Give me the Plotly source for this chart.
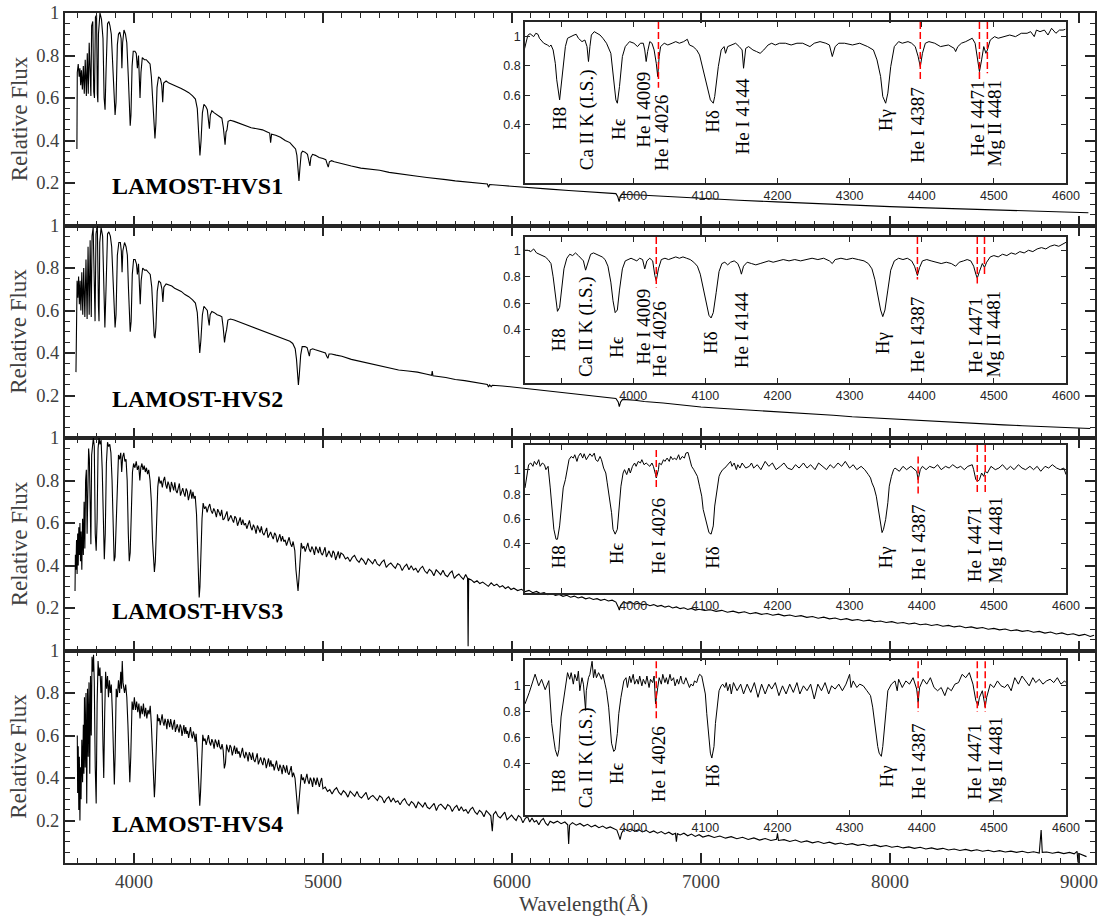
import plotly.graph_objects as go

# ---------------- data ----------------
WAVE_TICKS = [4000, 5000, 6000, 7000, 8000, 9000]
FLUX_TICKS = [0.2, 0.4, 0.6, 0.8, 1.0]
FLUX_LABELS = ["0.2", "0.4", "0.6", "0.8", "1"]
INSET_XTICKS = [3900, 4000, 4100, 4200, 4300, 4400, 4500, 4600]
INSET_XLABELS = ["", "4000", "4100", "4200", "4300", "4400", "4500", "4600"]
INSET_YTICKS = [0.2, 0.4, 0.6, 0.8, 1.0]
INSET_YLABELS = ["", "0.4", "0.6", "0.8", "1"]
STAR_NAMES = ["LAMOST-HVS1", "LAMOST-HVS2", "LAMOST-HVS3", "LAMOST-HVS4"]
INSET_YMAX = [1.1, 1.1, 1.2, 1.2]

HVS1_MAIN = [(3698,0.36),(3700,0.72),(3705,0.76),(3710,0.70),(3714,0.74),(3718,0.66),(3722,0.73),(3727,0.64),(3732,0.75),(3737,0.62),(3742,0.78),(3748,0.61),(3753,0.81),(3758,0.62),(3763,0.86),(3768,0.64),(3772,0.61),(3776,0.94),(3782,0.96),(3787,0.63),(3791,0.60),(3796,0.98),(3802,0.99),(3806,0.62),(3809,0.58),(3812,0.90),(3820,1.00),(3828,0.97),(3836,0.88),(3842,0.60),(3847,0.545),(3852,0.72),(3860,0.95),(3867,0.96),(3873,0.94),(3880,0.90),(3888,0.75),(3895,0.56),(3900,0.52),(3905,0.58),(3912,0.85),(3918,0.90),(3925,0.91),(3932,0.88),(3936,0.74),(3940,0.86),(3947,0.92),(3955,0.90),(3962,0.86),(3970,0.70),(3976,0.50),(3980,0.47),(3984,0.52),(3990,0.75),(3996,0.82),(4005,0.82),(4012,0.81),(4018,0.74),(4024,0.80),(4028,0.70),(4032,0.60),(4037,0.72),(4044,0.79),(4055,0.78),(4065,0.78),(4075,0.77),(4085,0.76),(4092,0.70),(4100,0.55),(4108,0.43),(4111,0.41),(4116,0.48),(4122,0.65),(4130,0.70),(4140,0.69),(4147,0.66),(4152,0.58),(4157,0.67),(4170,0.68),(4185,0.67),(4200,0.665),(4215,0.66),(4230,0.655),(4250,0.645),(4270,0.635),(4290,0.625),(4310,0.61),(4325,0.595),(4335,0.55),(4343,0.42),(4349,0.33),(4355,0.40),(4362,0.53),(4370,0.57),(4380,0.56),(4388,0.545),(4394,0.50),(4399,0.455),(4404,0.52),(4412,0.54),(4425,0.53),(4440,0.52),(4455,0.51),(4465,0.505),(4473,0.46),(4482,0.38),(4487,0.44),(4492,0.45),(4498,0.49),(4510,0.495),(4530,0.49),(4560,0.48),(4590,0.47),(4620,0.46),(4650,0.455),(4680,0.45),(4705,0.44),(4718,0.435),(4723,0.39),(4728,0.43),(4750,0.425),(4775,0.415),(4800,0.40),(4825,0.39),(4840,0.375),(4855,0.36),(4862,0.33),(4868,0.26),(4873,0.21),(4878,0.27),(4885,0.34),(4892,0.35),(4905,0.345),(4918,0.335),(4926,0.305),(4931,0.28),(4936,0.32),(4945,0.335),(4960,0.33),(4980,0.32),(5000,0.315),(5015,0.31),(5022,0.29),(5028,0.275),(5034,0.30),(5045,0.305),(5060,0.30),(5100,0.29),(5150,0.28),(5200,0.27),(5250,0.265),(5300,0.26),(5350,0.25),(5400,0.245),(5450,0.238),(5500,0.232),(5550,0.226),(5600,0.222),(5650,0.216),(5700,0.21),(5750,0.205),(5800,0.20),(5870,0.195),(5876,0.18),(5882,0.193),(5950,0.188),(6000,0.184),(6100,0.178),(6200,0.171),(6300,0.165),(6400,0.159),(6500,0.153),(6550,0.15),(6560,0.135),(6567,0.112),(6573,0.135),(6580,0.147),(6700,0.142),(6800,0.137),(6900,0.132),(7000,0.127),(7200,0.119),(7400,0.111),(7600,0.103),(7800,0.096),(8000,0.089),(8200,0.083),(8400,0.077),(8600,0.072),(8800,0.067),(9000,0.062),(9050,0.06)]

HVS2_MAIN = [(3693,0.31),(3695,0.68),(3699,0.74),(3703,0.66),(3707,0.76),(3711,0.63),(3715,0.74),(3719,0.60),(3724,0.78),(3729,0.58),(3734,0.80),(3740,0.57),(3746,0.84),(3752,0.56),(3757,0.90),(3763,0.58),(3768,0.93),(3774,0.57),(3778,0.95),(3784,0.99),(3790,0.60),(3794,0.55),(3799,0.96),(3806,1.0),(3812,0.62),(3815,0.55),(3819,0.92),(3826,0.99),(3834,0.95),(3841,0.62),(3846,0.52),(3852,0.70),(3860,0.96),(3867,0.97),(3875,0.95),(3882,0.90),(3890,0.74),(3896,0.55),(3900,0.52),(3905,0.58),(3912,0.86),(3920,0.92),(3928,0.92),(3933,0.88),(3937,0.78),(3941,0.88),(3950,0.92),(3958,0.90),(3965,0.86),(3971,0.70),(3977,0.52),(3980,0.50),(3985,0.55),(3991,0.77),(3998,0.84),(4006,0.84),(4013,0.82),(4018,0.77),(4024,0.82),(4029,0.72),(4033,0.63),(4038,0.74),(4046,0.80),(4056,0.79),(4066,0.79),(4076,0.78),(4086,0.77),(4094,0.71),(4101,0.56),(4107,0.48),(4111,0.47),(4116,0.52),(4123,0.69),(4131,0.74),(4141,0.73),(4148,0.70),(4153,0.64),(4158,0.71),(4170,0.725),(4185,0.72),(4200,0.715),(4215,0.705),(4230,0.70),(4250,0.69),(4270,0.675),(4290,0.665),(4310,0.65),(4325,0.635),(4335,0.59),(4342,0.47),(4348,0.40),(4354,0.46),(4362,0.58),(4370,0.62),(4380,0.61),(4388,0.60),(4393,0.56),(4398,0.53),(4403,0.58),(4412,0.595),(4425,0.59),(4440,0.58),(4455,0.575),(4465,0.57),(4472,0.52),(4479,0.45),(4485,0.49),(4490,0.51),(4497,0.555),(4510,0.56),(4530,0.555),(4560,0.545),(4590,0.535),(4620,0.525),(4650,0.515),(4680,0.505),(4710,0.495),(4740,0.485),(4770,0.475),(4800,0.465),(4825,0.455),(4840,0.445),(4853,0.42),(4860,0.37),(4866,0.29),(4870,0.25),(4875,0.30),(4882,0.39),(4890,0.43),(4905,0.43),(4916,0.425),(4923,0.40),(4928,0.385),(4933,0.415),(4945,0.42),(4960,0.415),(4980,0.41),(5000,0.405),(5013,0.40),(5020,0.385),(5026,0.375),(5032,0.395),(5045,0.395),(5070,0.39),(5100,0.385),(5150,0.37),(5200,0.36),(5250,0.35),(5300,0.34),(5350,0.33),(5400,0.32),(5450,0.315),(5500,0.31),(5550,0.30),(5575,0.295),(5578,0.315),(5582,0.293),(5650,0.285),(5700,0.275),(5750,0.27),(5800,0.262),(5870,0.252),(5876,0.24),(5882,0.25),(5890,0.242),(5896,0.248),(5950,0.245),(6000,0.24),(6100,0.23),(6200,0.22),(6300,0.21),(6400,0.2),(6500,0.19),(6550,0.186),(6562,0.17),(6568,0.148),(6575,0.17),(6585,0.182),(6650,0.178),(6700,0.172),(6800,0.165),(6900,0.155),(7000,0.146),(7100,0.14),(7200,0.135),(7300,0.13),(7400,0.124),(7500,0.118),(7600,0.112),(7700,0.107),(7800,0.1),(7900,0.095),(8000,0.089),(8100,0.085),(8200,0.08),(8300,0.076),(8400,0.071),(8500,0.066),(8600,0.062),(8700,0.058),(8800,0.055),(8900,0.051),(9000,0.047),(9060,0.045)]

HVS3_MAIN = [(3688,0.28),(3690,0.45),(3693,0.38),(3696,0.52),(3699,0.36),(3702,0.55),(3705,0.40),(3708,0.58),(3711,0.45),(3714,0.60),(3717,0.42),(3720,0.56),(3724,0.38),(3728,0.62),(3732,0.45),(3736,0.70),(3740,0.48),(3744,0.80),(3748,0.85),(3752,0.55),(3756,0.88),(3760,0.95),(3764,0.90),(3768,0.52),(3772,0.50),(3776,0.92),(3780,0.98),(3785,1.0),(3790,0.96),(3795,0.55),(3800,0.47),(3805,0.62),(3810,0.95),(3815,1.0),(3820,0.97),(3826,0.99),(3832,0.85),(3838,0.55),(3843,0.43),(3848,0.55),(3854,0.88),(3860,0.98),(3866,0.96),(3872,0.97),(3878,0.93),(3884,0.80),(3890,0.55),(3895,0.42),(3900,0.44),(3905,0.60),(3912,0.85),(3918,0.92),(3924,0.90),(3930,0.93),(3935,0.84),(3940,0.91),(3946,0.93),(3952,0.89),(3958,0.90),(3964,0.80),(3970,0.55),(3975,0.42),(3980,0.46),(3986,0.70),(3992,0.84),(3998,0.88),(4005,0.86),(4012,0.89),(4018,0.85),(4025,0.87),(4031,0.80),(4036,0.86),(4042,0.88),(4048,0.85),(4054,0.87),(4060,0.84),(4066,0.86),(4072,0.83),(4078,0.85),(4085,0.80),(4092,0.70),(4098,0.52),(4104,0.40),(4108,0.37),(4113,0.42),
    (4120,0.62),(4126,0.77),(4132,0.818),(4138,0.786),(4144,0.799),(4150,0.767),(4156,0.80),(4162,0.817),(4168,0.78),(4174,0.762),(4180,0.795),(4186,0.778),(4192,0.745),(4198,0.793),(4204,0.775),(4210,0.753),(4216,0.791),(4222,0.753),(4228,0.741),(4234,0.768),(4240,0.786),(4246,0.729),(4252,0.751),(4258,0.764),(4264,0.741),(4270,0.724),(4276,0.762),(4282,0.749),(4288,0.707),(4294,0.739),(4300,0.757),(4306,0.715),(4312,0.747),(4318,0.715),(4324,0.727),(4331,0.64),(4336,0.50),(4341,0.33),(4345,0.25),(4349,0.30),(4354,0.46),(4360,0.62),
    (4366,0.694),(4373,0.667),(4380,0.677),(4387,0.65),(4394,0.675),(4401,0.689),(4408,0.658),(4415,0.644),(4422,0.669),(4429,0.654),(4436,0.628),(4443,0.665),(4450,0.651),(4457,0.632),(4464,0.662),(4471,0.615),(4478,0.62),(4485,0.642),(4492,0.655),(4499,0.609),(4506,0.626),(4513,0.636),(4520,0.617),(4527,0.602),(4534,0.632),(4541,0.621),(4548,0.587),(4555,0.612),(4562,0.626),(4569,0.591),(4576,0.616),(4583,0.59),(4590,0.599),(4597,0.573),(4604,0.598),(4611,0.612),(4618,0.581),(4625,0.566),(4632,0.592),(4639,0.577),(4646,0.55),(4653,0.588),(4660,0.573),(4667,0.555),(4674,0.584),(4681,0.553),(4688,0.543),(4695,0.564),(4702,0.577),(4709,0.531),(4716,0.548),(4723,0.558),(4730,0.539),(4737,0.524),(4744,0.554),(4751,0.543),(4758,0.509),(4765,0.534),(4772,0.547),(4779,0.513),(4786,0.538),(4793,0.512),(4800,0.521),(4807,0.494),(4814,0.52),(4821,0.533),(4828,0.503),(4835,0.488),(4842,0.513),(4851,0.47),(4857,0.38),(4863,0.30),(4868,0.28),(4873,0.34),(4879,0.45),
    (4885,0.506),(4892,0.48),(4899,0.491),(4906,0.465),(4913,0.492),(4920,0.506),(4927,0.476),(4934,0.463),(4941,0.489),(4948,0.476),(4955,0.45),(4962,0.489),(4969,0.475),(4976,0.458),(4983,0.488),(4990,0.459),(4997,0.449),(5004,0.471),(5011,0.486),(5018,0.44),(5025,0.459),(5032,0.469),(5039,0.452),(5046,0.438),(5053,0.469),(5060,0.459),(5067,0.426),(5074,0.452),(5081,0.466),(5088,0.433),(5095,0.459),
    (5107,0.451),(5119,0.431),(5131,0.439),(5143,0.419),(5155,0.438),(5167,0.448),(5179,0.426),(5191,0.415),(5203,0.434),(5215,0.423),(5227,0.404),(5239,0.432),(5251,0.421),(5263,0.408),(5275,0.43),(5287,0.407),(5299,0.399),(5311,0.416),(5323,0.426),(5335,0.391),(5347,0.404),(5359,0.412),(5371,0.398),(5383,0.387),(5395,0.409),(5407,0.402),(5419,0.376),(5431,0.395),(5443,0.406),(5455,0.38),(5467,0.399),(5479,0.379),(5491,0.387),(5503,0.367),(5515,0.386),(5527,0.396),(5539,0.374),(5551,0.363),(5563,0.382),(5575,0.372),(5587,0.352),(5599,0.38),(5611,0.369),(5623,0.356),(5635,0.378),(5647,0.355),(5659,0.347),(5671,0.364),(5683,0.374),(5695,0.339),(5707,0.352),(5719,0.36),(5731,0.346),(5743,0.335),(5755,0.358),(5765,0.34),(5768,0.02),(5771,0.338),
    (5785,0.332),(5800,0.32),(5815,0.328),(5830,0.315),(5845,0.322),(5860,0.31),(5875,0.302),(5890,0.318),(5905,0.305),(5920,0.312),(5935,0.298),(5950,0.305),(5965,0.292),(5980,0.30),(5995,0.287),(6010,0.293),(6030,0.282),(6050,0.288),(6070,0.277),(6090,0.283),(6110,0.272),(6130,0.278),(6150,0.268),(6170,0.273),(6190,0.263),(6210,0.268),(6230,0.259),(6250,0.264),(6270,0.255),(6290,0.26),(6310,0.251),(6330,0.256),(6350,0.247),(6370,0.252),(6390,0.243),(6410,0.248),(6430,0.24),(6450,0.244),(6470,0.236),(6490,0.241),(6510,0.233),(6530,0.237),(6550,0.228),(6562,0.205),(6568,0.19),(6575,0.212),(6590,0.228),(6610,0.222),(6630,0.226),(6650,0.218),(6670,0.223),(6690,0.215),(6710,0.219),(6730,0.211),(6750,0.216),(6770,0.208),(6790,0.212),(6810,0.204),(6830,0.209),(6850,0.2),(6870,0.205),(6890,0.197),(6910,0.201),(6930,0.193),(6950,0.198),(6970,0.19),(6990,0.194),(7020,0.188),(7050,0.192),(7080,0.184),(7110,0.189),(7140,0.18),(7170,0.185),(7200,0.177),(7230,0.182),(7260,0.173),(7290,0.178),(7320,0.17),(7350,0.174),(7380,0.166),(7410,0.171),(7440,0.163),(7470,0.167),(7500,0.16),(7530,0.164),(7560,0.156),(7590,0.16),(7620,0.152),(7650,0.157),(7680,0.149),(7710,0.153),(7740,0.145),(7770,0.15),(7800,0.142),(7830,0.146),(7860,0.139),(7890,0.143),(7920,0.135),(7950,0.139),(7980,0.132),(8010,0.136),(8040,0.128),(8070,0.132),(8100,0.125),(8130,0.129),(8160,0.121),(8190,0.125),(8220,0.118),(8250,0.122),(8280,0.114),(8310,0.118),(8340,0.111),(8370,0.115),(8400,0.107),(8430,0.111),(8460,0.104),(8490,0.108),(8520,0.1),(8550,0.104),(8580,0.097),(8610,0.101),(8640,0.093),(8670,0.097),(8700,0.09),(8730,0.094),(8760,0.086),(8790,0.09),(8820,0.082),(8850,0.087),(8880,0.078),(8910,0.083),(8940,0.074),(8970,0.079),(9000,0.07),(9030,0.076),(9060,0.066),(9080,0.072)]

HVS4_MAIN = [(3700,0.60),(3702,0.33),(3705,0.55),(3708,0.25),(3711,0.50),(3714,0.20),(3717,0.45),(3720,0.30),(3724,0.58),(3728,0.38),(3732,0.65),(3735,0.42),(3738,0.78),(3742,0.45),(3746,0.80),(3750,0.28),(3754,0.82),(3758,0.50),(3762,0.85),(3766,0.42),(3770,0.88),(3774,0.60),(3778,0.97),(3782,0.90),(3786,0.98),(3790,0.85),(3795,0.45),(3800,0.28),(3805,0.75),(3810,0.95),(3815,0.88),(3820,0.92),(3825,0.80),(3830,0.88),(3836,0.55),(3840,0.40),(3845,0.70),(3850,0.90),(3855,0.82),(3860,0.88),(3865,0.78),(3870,0.86),(3875,0.80),(3880,0.84),(3886,0.70),(3892,0.45),(3896,0.37),(3900,0.50),(3906,0.82),(3912,0.78),(3918,0.86),(3924,0.80),(3930,0.90),(3934,0.82),(3938,0.95),(3942,0.85),(3946,0.83),(3950,0.80),(3956,0.84),(3962,0.78),(3968,0.65),(3974,0.45),(3978,0.38),(3983,0.50),(3990,0.76),(3996,0.72),(4002,0.78),(4008,0.72),(4014,0.76),(4020,0.71),(4026,0.75),(4032,0.68),(4038,0.74),(4044,0.70),(4050,0.75),(4056,0.69),(4062,0.73),(4068,0.68),(4074,0.72),(4080,0.70),(4086,0.74),(4092,0.65),(4098,0.50),(4104,0.35),(4108,0.31),(4112,0.38),(4118,0.60),
    (4124,0.70),(4129,0.668),(4134,0.681),(4139,0.649),(4144,0.682),(4149,0.70),(4154,0.663),(4159,0.646),(4164,0.679),(4169,0.662),(4174,0.63),(4179,0.678),(4184,0.661),(4189,0.639),(4194,0.677),(4199,0.64),(4204,0.628),(4209,0.656),(4214,0.674),(4219,0.617),(4224,0.64),(4229,0.653),(4234,0.631),(4239,0.614),(4244,0.652),(4249,0.64),(4254,0.598),(4259,0.631),(4264,0.649),(4269,0.607),(4274,0.64),(4279,0.608),(4284,0.621),(4289,0.589),(4294,0.622),(4299,0.64),(4304,0.603),(4309,0.586),(4314,0.619),(4319,0.602),(4324,0.57),(4329,0.608),(4334,0.54),(4340,0.40),(4344,0.29),(4348,0.27),(4352,0.33),(4358,0.50),
    (4364,0.603),(4370,0.574),(4376,0.586),(4382,0.556),(4388,0.586),(4394,0.602),(4400,0.568),(4406,0.553),(4412,0.583),(4418,0.567),(4424,0.538),(4430,0.581),(4436,0.566),(4442,0.545),(4448,0.58),(4454,0.546),(4460,0.535),(4466,0.56),(4472,0.53),(4478,0.445),(4484,0.47),(4490,0.557),(4496,0.536),(4502,0.521),(4508,0.555),(4514,0.544),(4520,0.506),(4526,0.536),(4532,0.552),(4538,0.513),(4544,0.543),(4550,0.514),(4556,0.526),(4562,0.496),(4568,0.526),(4574,0.542),(4580,0.508),(4586,0.493),(4592,0.523),(4598,0.507),(4604,0.478),(4610,0.521),(4616,0.506),(4622,0.485),(4628,0.52),(4634,0.486),(4640,0.475),(4646,0.50),(4652,0.516),(4658,0.464),(4664,0.485),(4670,0.497),(4676,0.476),(4682,0.461),(4688,0.495),(4694,0.484),(4700,0.446),(4706,0.476),(4712,0.492),(4718,0.453),(4724,0.483),(4730,0.454),(4736,0.466),(4742,0.436),(4748,0.466),(4754,0.482),(4760,0.448),(4766,0.433),(4772,0.463),(4778,0.447),(4784,0.418),(4790,0.461),(4796,0.446),(4802,0.425),(4808,0.46),(4814,0.426),(4820,0.415),(4826,0.44),(4832,0.456),(4838,0.404),(4844,0.425),(4852,0.40),(4858,0.34),(4863,0.27),(4868,0.23),(4873,0.29),(4879,0.38),
    (4885,0.418),(4891,0.39),(4897,0.402),(4903,0.373),(4909,0.403),(4915,0.42),(4921,0.386),(4927,0.372),(4933,0.402),(4939,0.387),(4945,0.358),(4951,0.402),(4957,0.387),(4963,0.367),(4969,0.402),(4975,0.369),(4981,0.358),(4987,0.384),(4993,0.40),(5000,0.349),
    (5012,0.357),(5024,0.337),(5036,0.345),(5048,0.325),(5060,0.344),(5072,0.354),(5084,0.332),(5096,0.321),(5108,0.34),(5120,0.33),(5132,0.31),(5144,0.338),(5156,0.327),(5168,0.314),(5180,0.336),(5192,0.313),(5204,0.306),(5216,0.322),(5228,0.332),(5240,0.298),(5252,0.311),(5264,0.318),(5276,0.304),(5288,0.294),(5300,0.316),(5312,0.308),(5324,0.283),(5336,0.302),(5348,0.312),(5360,0.287),(5372,0.306),(5384,0.286),(5396,0.293),(5408,0.274),(5420,0.293),(5432,0.303),(5444,0.281),(5456,0.27),(5468,0.289),(5480,0.279),(5492,0.259),(5504,0.287),(5516,0.276),(5528,0.263),(5540,0.285),(5552,0.262),(5564,0.255),(5576,0.271),(5588,0.281),(5600,0.247),(5612,0.27),(5624,0.277),(5636,0.263),(5648,0.253),(5660,0.275),(5672,0.267),(5684,0.242),(5696,0.261),(5708,0.271),(5720,0.246),(5732,0.265),(5744,0.245),(5756,0.252),(5768,0.233),(5780,0.252),(5792,0.262),(5804,0.24),(5816,0.229),(5828,0.248),(5840,0.238),(5852,0.218),(5864,0.246),(5876,0.235),(5888,0.222),(5896,0.15),(5902,0.229),(5914,0.242),(5926,0.22),(5938,0.212),(5950,0.228),(5962,0.239),(5974,0.204),(5986,0.217),(5998,0.225),(6010,0.211),(6022,0.20),(6034,0.223),(6046,0.215),(6058,0.189),(6070,0.209),(6082,0.219),(6094,0.193),(6106,0.212),(6118,0.193),(6130,0.20),(6142,0.18),(6154,0.20),(6166,0.21),(6178,0.187),(6190,0.177),(6202,0.196),
    (6220,0.188),(6240,0.197),(6260,0.185),(6280,0.193),(6295,0.18),(6300,0.09),(6305,0.178),(6320,0.19),(6340,0.178),(6360,0.186),(6380,0.174),(6400,0.182),(6420,0.17),(6440,0.178),(6460,0.166),(6480,0.174),(6500,0.163),(6520,0.17),(6540,0.16),(6555,0.155),(6565,0.13),(6572,0.11),(6580,0.14),(6595,0.162),(6610,0.152),(6630,0.16),(6650,0.149),(6670,0.157),(6690,0.146),(6710,0.154),(6730,0.143),(6750,0.151),(6770,0.14),(6790,0.148),(6810,0.137),(6830,0.145),(6850,0.134),(6865,0.14),(6870,0.10),(6875,0.138),(6890,0.132),(6910,0.14),(6930,0.128),(6950,0.136),(6970,0.125),(6990,0.133),(7010,0.122),(7040,0.13),(7070,0.12),(7100,0.127),(7130,0.117),(7160,0.124),(7190,0.114),(7220,0.121),(7250,0.111),(7280,0.118),(7310,0.108),(7340,0.115),(7370,0.106),(7400,0.112),(7405,0.14),(7410,0.106),(7440,0.11),(7470,0.101),(7500,0.108),(7530,0.098),(7560,0.104),(7590,0.095),(7620,0.101),(7650,0.092),(7680,0.098),(7710,0.089),(7740,0.094),(7770,0.086),(7800,0.091),(7830,0.083),(7860,0.088),(7890,0.08),(7920,0.085),(7950,0.077),(7980,0.082),(8010,0.074),(8040,0.079),(8070,0.071),(8100,0.076),(8130,0.069),(8160,0.074),(8190,0.066),(8220,0.071),(8250,0.064),(8280,0.069),(8310,0.061),(8340,0.066),(8370,0.059),(8400,0.064),(8430,0.057),(8460,0.062),(8490,0.055),(8520,0.06),(8550,0.053),(8580,0.058),(8610,0.052),(8640,0.056),(8670,0.05),(8700,0.055),(8730,0.048),(8760,0.053),(8790,0.047),(8800,0.155),(8806,0.05),(8830,0.052),(8860,0.046),(8890,0.051),(8920,0.044),(8950,0.05),(8975,0.043),(8990,0.055),(8995,0.003),(9000,0.045),(9020,0.038),(9040,0.03)]

HVS1_INSET = [(3849,0.91),(3854,1.01),(3857,1.02),(3862,1.0),(3865,1.023),(3868,1.016),(3870,0.989),(3876,0.955),(3881,0.943),(3884,0.932),(3886,0.943),(3889,0.909),(3892,0.818),(3894,0.705),(3898,0.568),(3901,0.705),(3904,0.852),(3906,0.932),(3909,0.989),(3913,1.0),(3918,1.011),(3921,1.016),(3924,0.989),(3929,0.966),(3933,0.977),(3936,0.932),(3938,0.83),(3940,0.932),(3942,1.011),(3946,1.034),(3950,1.023),(3954,1.011),(3958,0.989),(3963,0.955),(3969,0.886),(3973,0.727),(3976,0.568),(3978,0.545),(3981,0.659),(3985,0.864),(3989,0.932),(3993,0.955),(3995,0.966),(4001,0.955),(4006,0.932),(4010,0.955),(4014,0.955),(4016,0.909),(4018,0.83),(4020,0.898),(4023,0.966),(4026,0.955),(4029,0.909),(4032,0.818),(4034,0.727),(4036,0.864),(4038,0.932),(4043,0.955),(4048,0.943),(4054,0.955),(4059,0.966),(4064,0.955),(4070,0.966),(4075,0.982),(4078,0.943),(4083,0.932),(4088,0.909),(4092,0.875),(4096,0.795),(4102,0.659),(4107,0.568),(4111,0.545),(4113,0.591),(4118,0.795),(4122,0.909),(4126,0.932),(4128,0.886),(4131,0.932),(4136,0.943),(4142,0.955),(4147,0.932),(4151,0.909),(4153,0.784),(4156,0.920),(4160,0.932),(4166,0.909),(4171,0.898),(4176,0.886),(4181,0.909),(4187,0.943),(4192,0.955),(4197,0.943),(4203,0.955),(4211,0.955),(4219,0.943),(4227,0.955),(4235,0.955),(4240,0.943),(4245,0.932),(4251,0.955),(4259,0.966),(4267,0.955),(4272,0.943),(4276,0.864),(4280,0.932),(4285,0.955),(4293,0.955),(4304,0.943),(4314,0.955),(4325,0.932),(4333,0.909),(4338,0.841),(4343,0.727),(4346,0.591),(4350,0.545),(4353,0.614),(4357,0.795),(4362,0.932),(4368,0.966),(4373,0.955),(4381,0.966),(4386,0.955),(4391,0.932),(4395,0.864),(4398,0.795),(4401,0.886),(4405,0.955),(4410,0.966),(4418,0.955),(4426,0.932),(4437,0.943),(4445,0.920),(4447,0.898),(4450,0.932),(4455,0.955),(4461,0.966),(4466,0.977),(4470,0.989),(4474,0.955),(4478,0.841),(4480,0.761),(4483,0.841),(4486,0.932),(4489,0.886),(4491,0.909),(4495,0.977),(4501,1.0),(4506,0.989),(4514,1.0),(4522,1.011),(4530,1.0),(4538,1.023),(4546,1.023),(4551,1.034),(4556,1.0),(4559,1.045),(4564,1.034),(4570,1.045),(4575,1.011),(4580,1.057),(4586,1.023),(4591,1.045),(4596,1.045),(4599,1.05)]

HVS2_INSET = [(3850,1.0),(3854,1.0),(3858,0.99),(3862,1.01),(3866,0.98),(3870,0.97),(3874,0.96),(3878,0.95),(3882,0.93),(3886,0.90),(3889,0.80),(3892,0.66),(3895,0.54),(3898,0.57),(3901,0.72),(3904,0.86),(3908,0.94),(3912,0.97),(3916,0.96),(3920,0.98),(3924,0.96),(3928,0.94),(3931,0.92),(3934,0.85),(3937,0.90),(3941,0.97),(3945,0.98),(3949,0.97),(3953,0.96),(3957,0.95),(3961,0.93),(3965,0.88),(3969,0.76),(3972,0.62),(3975,0.53),(3978,0.55),(3981,0.70),(3985,0.86),(3989,0.92),(3993,0.93),(3997,0.94),(4001,0.93),(4005,0.92),(4009,0.94),(4013,0.93),(4016,0.86),(4019,0.92),(4023,0.94),(4027,0.92),(4030,0.81),(4032,0.77),(4035,0.86),(4039,0.93),(4044,0.94),(4049,0.93),(4054,0.94),(4059,0.95),(4064,0.94),(4069,0.95),(4074,0.94),(4079,0.93),(4084,0.91),(4089,0.88),(4093,0.82),(4097,0.72),(4101,0.60),(4105,0.51),(4108,0.49),(4111,0.53),(4115,0.68),(4119,0.84),(4123,0.90),(4127,0.91),(4131,0.89),(4135,0.91),(4140,0.92),(4145,0.90),(4148,0.86),(4150,0.82),(4153,0.88),(4158,0.91),(4164,0.90),(4170,0.89),(4176,0.90),(4182,0.91),(4188,0.92),(4194,0.91),(4200,0.92),(4208,0.93),(4216,0.92),(4224,0.93),(4232,0.92),(4240,0.93),(4248,0.94),(4256,0.93),(4264,0.94),(4272,0.92),(4276,0.90),(4280,0.93),(4288,0.94),(4296,0.93),(4304,0.94),(4312,0.93),(4320,0.92),(4326,0.90),(4331,0.86),(4335,0.78),(4339,0.66),(4343,0.55),(4346,0.50),(4349,0.55),(4353,0.70),(4357,0.85),(4362,0.92),(4368,0.94),(4374,0.93),(4380,0.94),(4386,0.92),(4390,0.88),(4394,0.81),(4397,0.87),(4401,0.92),(4407,0.93),(4413,0.92),(4420,0.91),(4427,0.90),(4434,0.91),(4441,0.90),(4447,0.88),(4452,0.91),(4458,0.92),(4463,0.93),(4468,0.92),(4472,0.88),(4475,0.82),(4477,0.79),(4480,0.84),(4484,0.90),(4487,0.87),(4490,0.91),(4495,0.95),(4500,0.96),(4506,0.95),(4512,0.97),(4518,0.96),(4524,0.98),(4530,0.97),(4536,0.99),(4542,0.98),(4548,1.0),(4554,0.99),(4560,1.01),(4566,1.02),(4572,1.01),(4578,1.03),(4584,1.04),(4590,1.03),(4596,1.05),(4600,1.06)]

HVS3_INSET = [(3850,0.852),(3853,0.973),(3855,1.04),(3858,1.054),(3861,1.027),(3863,1.067),(3866,1.04),(3869,1.081),(3871,1.027),(3874,1.054),(3877,1.04),(3879,1.0),(3882,1.027),(3885,0.852),(3887,0.705),(3890,0.517),(3893,0.436),(3895,0.436),(3898,0.544),(3901,0.705),(3903,0.852),(3906,0.919),(3909,1.0),(3911,1.081),(3914,1.107),(3917,1.094),(3919,1.121),(3922,1.067),(3924,1.107),(3927,1.134),(3930,1.094),(3932,1.129),(3935,1.081),(3938,1.107),(3940,1.129),(3943,1.107),(3946,1.134),(3948,1.081),(3951,1.067),(3954,1.107),(3956,1.081),(3959,1.013),(3962,0.973),(3964,0.893),(3967,0.785),(3970,0.651),(3972,0.517),(3975,0.477),(3978,0.517),(3980,0.678),(3983,0.866),(3986,0.973),(3988,1.0),(3991,0.96),(3994,1.013),(3996,0.973),(3999,1.027),(4002,1.054),(4004,1.027),(4007,1.067),(4010,1.054),(4012,1.081),(4015,1.04),(4018,1.054),(4020,1.04),(4023,1.027),(4026,1.054),(4028,1.027),(4031,0.96),(4032,0.933),(4035,1.0),(4036,1.054),(4039,1.04),(4042,1.081),(4044,1.067),(4047,1.094),(4050,1.067),(4052,1.107),(4055,1.081),(4057,1.094),(4060,1.081),(4063,1.121),(4065,1.081),(4068,1.107),(4071,1.094),(4073,1.134),(4076,1.14),(4079,1.067),(4081,1.027),(4084,1.0),(4087,0.96),(4089,0.946),(4092,0.866),(4095,0.785),(4097,0.678),(4100,0.597),(4103,0.517),(4105,0.49),(4108,0.477),(4111,0.544),(4113,0.705),(4116,0.839),(4119,0.946),(4121,0.973),(4124,1.0),(4127,1.013),(4129,1.027),(4132,1.054),(4135,1.067),(4137,1.027),(4140,1.054),(4143,1.0),(4145,1.04),(4148,1.013),(4151,1.054),(4156,1.013),(4161,1.027),(4164,1.054),(4167,1.013),(4172,1.04),(4177,1.0),(4183,1.067),(4188,1.027),(4193,1.054),(4198,1.0),(4204,1.027),(4209,1.054),(4214,1.013),(4220,1.0),(4225,1.04),(4230,1.013),(4236,1.054),(4241,1.013),(4246,1.04),(4252,1.0),(4257,1.054),(4262,1.027),(4268,1.0),(4273,1.04),(4278,1.013),(4284,1.054),(4289,1.027),(4294,1.067),(4300,1.013),(4305,1.04),(4310,1.0),(4316,1.027),(4321,1.0),(4326,0.96),(4329,0.933),(4331,0.893),(4334,0.852),(4337,0.785),(4339,0.705),(4342,0.597),(4345,0.49),(4347,0.517),(4350,0.597),(4353,0.732),(4355,0.866),(4358,0.946),(4361,1.0),(4363,1.013),(4369,0.987),(4374,1.027),(4379,1.0),(4385,1.027),(4390,1.0),(4393,0.987),(4395,0.919),(4398,1.0),(4401,1.027),(4406,1.0),(4411,1.027),(4417,1.013),(4422,1.04),(4427,1.0),(4433,1.027),(4438,1.013),(4443,1.04),(4449,1.013),(4454,1.027),(4459,1.0),(4464,1.027),(4470,1.04),(4472,1.0),(4475,0.919),(4478,0.906),(4480,0.919),(4483,0.973),(4486,0.946),(4488,0.987),(4491,0.973),(4496,1.027),(4502,1.0),(4507,1.013),(4512,1.04),(4518,1.0),(4523,1.027),(4528,1.0),(4534,1.04),(4539,1.013),(4544,1.0),(4550,1.027),(4555,1.0),(4560,1.027),(4565,0.987),(4571,1.027),(4576,1.013),(4581,1.04),(4587,1.013),(4592,1.0),(4597,1.013),(4600,0.96)]

HVS4_INSET = [(3850,0.86),(3856,0.95),(3864,1.09),(3869,1.0),(3873,1.05),(3878,0.97),(3883,1.04),(3885,0.822),(3887,0.708),(3890,0.581),(3892,0.505),(3895,0.454),(3897,0.505),(3900,0.759),(3902,0.835),(3905,0.962),(3907,1.063),(3909,1.102),(3912,1.051),(3914,1.102),(3917,1.013),(3919,1.089),(3922,1.038),(3924,1.114),(3926,0.962),(3929,1.063),(3931,1.013),(3934,0.81),(3935,0.962),(3938,1.063),(3940,1.089),(3943,1.19),(3945,1.063),(3947,1.127),(3949,1.063),(3952,1.102),(3956,1.051),(3958,1.089),(3961,1.013),(3963,0.962),(3966,0.835),(3968,0.683),(3970,0.556),(3973,0.492),(3975,0.505),(3978,0.632),(3980,0.784),(3983,0.911),(3985,0.987),(3987,1.038),(3990,1.063),(3992,0.987),(3995,1.076),(3997,1.025),(4000,1.089),(4002,1.013),(4005,1.051),(4007,1.013),(4009,1.076),(4012,1.0),(4014,1.051),(4017,1.013),(4019,1.076),(4022,0.987),(4024,1.051),(4027,1.025),(4029,1.076),(4031,0.86),(4034,0.987),(4036,1.063),(4039,1.013),(4041,1.089),(4044,1.025),(4046,1.063),(4048,1.013),(4051,1.089),(4053,1.038),(4056,1.063),(4058,1.0),(4061,1.051),(4063,1.013),(4066,1.076),(4068,1.025),(4070,1.013),(4073,1.063),(4075,1.025),(4078,0.987),(4080,1.013),(4083,1.0),(4085,1.038),(4088,1.025),(4090,1.063),(4092,1.089),(4095,1.076),(4097,1.025),(4100,0.937),(4102,0.784),(4105,0.632),(4107,0.479),(4109,0.441),(4112,0.53),(4114,0.708),(4117,0.886),(4119,0.962),(4122,1.0),(4124,1.013),(4127,0.987),(4129,1.025),(4131,0.962),(4134,1.013),(4136,0.937),(4139,1.025),(4144,0.962),(4149,1.013),(4153,0.937),(4158,1.013),(4163,0.949),(4168,1.025),(4173,0.911),(4178,1.013),(4183,0.937),(4188,1.013),(4192,0.975),(4197,1.025),(4202,0.924),(4207,1.0),(4212,0.937),(4217,1.013),(4222,0.949),(4227,1.025),(4231,0.937),(4236,1.0),(4241,0.962),(4246,1.013),(4251,0.898),(4256,1.013),(4261,0.962),(4266,1.025),(4271,0.937),(4275,1.0),(4280,0.975),(4285,1.013),(4290,0.962),(4295,1.013),(4300,1.089),(4302,0.987),(4305,1.038),(4310,0.987),(4314,1.013),(4319,1.0),(4324,0.962),(4329,0.924),(4332,0.835),(4334,0.733),(4336,0.632),(4339,0.53),(4341,0.479),(4344,0.454),(4346,0.53),(4349,0.683),(4351,0.835),(4353,0.962),(4358,1.013),(4363,1.038),(4366,0.962),(4368,1.051),(4373,0.987),(4378,1.038),(4383,1.013),(4388,1.063),(4393,0.975),(4395,0.873),(4397,0.987),(4402,1.051),(4407,1.013),(4412,1.063),(4417,0.987),(4422,0.962),(4427,0.987),(4432,0.924),(4436,0.987),(4441,0.962),(4446,1.013),(4451,1.025),(4456,1.089),(4461,1.063),(4466,1.102),(4471,1.013),(4475,0.886),(4478,0.848),(4480,0.911),(4484,0.962),(4488,0.835),(4490,0.911),(4495,1.013),(4500,0.987),(4505,1.038),(4510,1.0),(4515,0.987),(4519,1.013),(4524,0.962),(4529,1.063),(4534,1.013),(4539,1.076),(4544,1.038),(4549,1.0),(4554,1.063),(4558,1.025),(4563,1.051),(4568,1.013),(4573,1.038),(4578,1.051),(4583,1.025),(4588,1.063),(4593,1.013),(4598,1.038),(4600,1.025)]

# red dashed markers: (wavelength, top, bottom)
HVS1_MARKS = [(4035,1.1,0.65),(4398,1.1,0.70),(4480,1.1,0.70),(4491,1.1,0.75)]
HVS2_MARKS = [(4032,1.1,0.72),(4394,1.1,0.78),(4477,1.1,0.75),(4487,1.1,0.80)]
HVS3_MARKS = [(4032,1.16,0.85),(4395,1.107,0.80),(4477,1.2,0.80),(4488,1.2,0.80)]
HVS4_MARKS = [(4032,1.19,0.75),(4395,1.19,0.80),(4477,1.19,0.80),(4488,1.19,0.80)]

# line labels: (text, wavelength, bottom flux)
HVS1_LABELS = [("H8",3898,0.35),("Ca II K (I.S.)",3936,0.07),("H\u03f5",3979,0.28),("He I 4009",4014,0.23),("He I 4026",4040,0.07),("H\u03b4",4110,0.33),("He I 4144",4152,0.18),("H\u03b3",4349,0.34),("He I 4387",4394,0.125),("He I 4471",4477,0.17),("Mg II 4481",4501,0.10)]
HVS2_LABELS = [("H8",3896,0.22),("Ca II K (I.S.)",3934,0.03),("H\u03f5",3977,0.17),("He I 4009",4013,0.12),("He I 4026",4036,0.03),("H\u03b4",4108,0.20),("He I 4144",4150,0.10),("H\u03b3",4346,0.20),("He I 4387",4393,0.06),("He I 4471",4474,0.06),("Mg II 4481",4500,0.03)]
HVS3_LABELS = [("H8",3896,0.18),("H\u03f5",3978,0.22),("He I 4026",4036,0.14),("H\u03b4",4110,0.18),("H\u03b3",4350,0.18),("He I 4387",4395,0.087),("He I 4471",4473,0.074),("Mg II 4481",4502,0.06)]
HVS4_LABELS = [("H8",3897,0.16),("Ca II K (I.S.)",3935,0.035),("H\u03f5",3978,0.225),("He I 4026",4035,0.086),("H\u03b4",4110,0.20),("H\u03b3",4351,0.20),("He I 4387",4395,0.106),("He I 4471",4473,0.106),("Mg II 4481",4502,0.073)]

MAIN_SPECTRA = [HVS1_MAIN, HVS2_MAIN, HVS3_MAIN, HVS4_MAIN]
INSET_SPECTRA = [HVS1_INSET, HVS2_INSET, HVS3_INSET, HVS4_INSET]
MARKS = [HVS1_MARKS, HVS2_MARKS, HVS3_MARKS, HVS4_MARKS]
LABELS = [HVS1_LABELS, HVS2_LABELS, HVS3_LABELS, HVS4_LABELS]

# ---------------- layout geometry (pixels of the 1101x918 canvas) ----------------
W, H = 1101, 918
MAIN_X = (65, 1095)
PANEL_Y = [(13, 225.5), (225.5, 438), (438, 650.5), (650.5, 863)]
INSET_X = (525, 1066)
INSET_Y = [(22, 183), (237, 383), (445, 593), (660, 815)]

SERIF = "Liberation Serif"
SANS = "Liberation Sans"
AXC = "#262626"
TXT = "#404040"


def px_x(a, b):
    return [a / W, b / W]


def px_y(top, bot):
    return [1 - bot / H, 1 - top / H]


fig = go.Figure()
layout = dict(template="none", width=W, height=H, margin=dict(l=0, r=0, t=0, b=0, pad=0),
              paper_bgcolor="white", plot_bgcolor="rgba(0,0,0,0)",
              showlegend=False, annotations=[])

for i in range(4):
    n = i + 1
    m = i + 5
    wl = [p[0] for p in MAIN_SPECTRA[i]]
    fl = [p[1] for p in MAIN_SPECTRA[i]]
    fig.add_trace(go.Scatter(x=wl, y=fl, mode="lines", line=dict(color="black", width=1.1),
                             xaxis=f"x{n}", yaxis=f"y{n}", hoverinfo="skip"))
    layout[f"xaxis{n}"] = dict(
        domain=px_x(*MAIN_X), range=[3635, 9085], anchor=f"y{n}", automargin=False,
        showline=True, mirror="allticks", linecolor=AXC, linewidth=2,
        ticks="inside", ticklen=10, tickwidth=1.5, tickcolor=AXC,
        tickmode="array", tickvals=WAVE_TICKS, ticktext=[str(v) for v in WAVE_TICKS],
        showticklabels=(n == 4),
        tickfont=dict(family=SERIF, size=19, color=TXT),
        minor=dict(tickmode="linear", tick0=0, dtick=100, ticks="inside", ticklen=5,
                   tickwidth=1.2, tickcolor=AXC, showgrid=False),
        showgrid=False, zeroline=False)
    layout[f"yaxis{n}"] = dict(
        domain=px_y(*PANEL_Y[i]), range=[0, 1], anchor=f"x{n}", automargin=False,
        showline=True, mirror="allticks", linecolor=AXC, linewidth=2,
        ticks="inside", ticklen=10, tickwidth=1.5, tickcolor=AXC,
        tickmode="array", tickvals=FLUX_TICKS, ticktext=FLUX_LABELS,
        tickfont=dict(family=SERIF, size=18.5, color=TXT),
        minor=dict(tickmode="linear", tick0=0, dtick=0.05, ticks="inside", ticklen=5,
                   tickwidth=1.2, tickcolor=AXC, showgrid=False),
        showgrid=False, zeroline=False)

    # inset
    wl = [p[0] for p in INSET_SPECTRA[i]]
    fl = [p[1] for p in INSET_SPECTRA[i]]
    fig.add_trace(go.Scatter(x=wl, y=fl, mode="lines", line=dict(color="black", width=1),
                             xaxis=f"x{m}", yaxis=f"y{m}", hoverinfo="skip"))
    for (lam, top, bot) in MARKS[i]:
        fig.add_trace(go.Scatter(x=[lam, lam], y=[top, bot], mode="lines",
                                 line=dict(color="red", width=1.5, dash="7px,3px"),
                                 xaxis=f"x{m}", yaxis=f"y{m}", hoverinfo="skip"))
    layout[f"xaxis{m}"] = dict(
        domain=px_x(*INSET_X), range=[3850, 4600], anchor=f"y{m}", automargin=False,
        showline=True, mirror="allticks", linecolor=AXC, linewidth=1.5,
        ticks="inside", ticklen=5, tickwidth=1, tickcolor=AXC,
        tickmode="array", tickvals=INSET_XTICKS, ticktext=INSET_XLABELS,
        tickfont=dict(family=SANS, size=12.5, color=AXC),
        showgrid=False, zeroline=False)
    layout[f"yaxis{m}"] = dict(
        domain=px_y(*INSET_Y[i]), range=[0, INSET_YMAX[i]], anchor=f"x{m}", automargin=False,
        showline=True, mirror="allticks", linecolor=AXC, linewidth=1.5,
        ticks="inside", ticklen=5, tickwidth=1, tickcolor=AXC,
        tickmode="array", tickvals=INSET_YTICKS, ticktext=INSET_YLABELS,
        tickfont=dict(family=SANS, size=12.5, color=AXC),
        showgrid=False, zeroline=False)

    for (txt, lam, bot) in LABELS[i]:
        layout["annotations"].append(dict(
            text=txt, x=lam, y=bot, xref=f"x{m}", yref=f"y{m}",
            xanchor="center", yanchor="bottom", textangle=-90, showarrow=False,
            font=dict(family=SERIF, size=19, color="black")))

    # star name
    top, bot = PANEL_Y[i]
    layout["annotations"].append(dict(
        text=f"<b>{STAR_NAMES[i]}</b>", x=110 / W, y=1 - (top + 173) / H,
        xref="paper", yref="paper", xanchor="left", yanchor="middle", showarrow=False,
        font=dict(family=SERIF, size=24, color="black")))
    # y title
    layout["annotations"].append(dict(
        text="Relative Flux", x=19 / W, y=1 - (top + bot) / 2 / H,
        xref="paper", yref="paper", xanchor="center", yanchor="middle",
        textangle=-90, showarrow=False,
        font=dict(family=SERIF, size=23, color=TXT)))

layout["annotations"].append(dict(
    text="Wavelength(\u00c5)", x=583 / W, y=1 - 904 / H, xref="paper", yref="paper",
    xanchor="center", yanchor="middle", showarrow=False,
    font=dict(family=SERIF, size=21, color=TXT)))

fig.update_layout(**layout)
fig.write_html("out.html")
